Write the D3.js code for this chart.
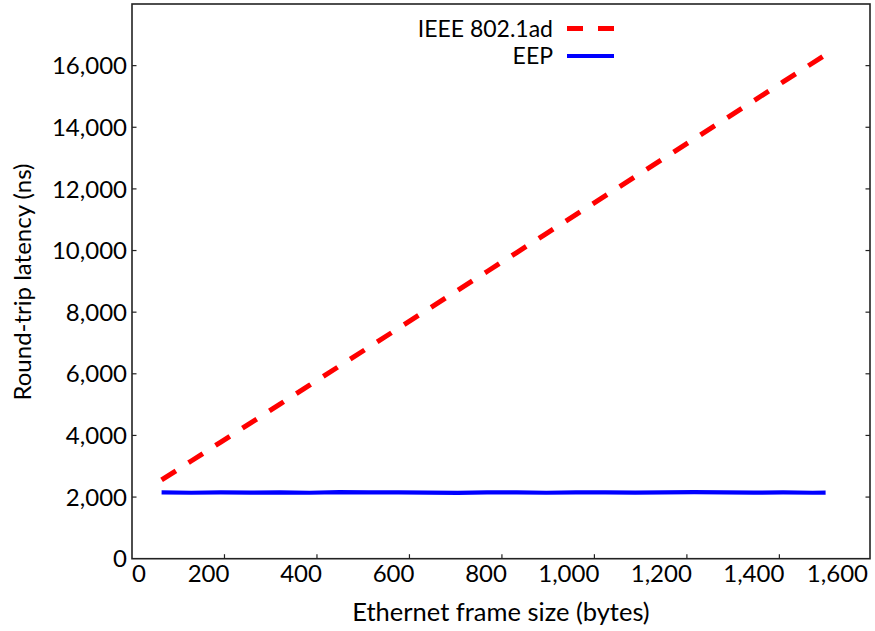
<!DOCTYPE html>
<html><head><meta charset="utf-8">
<script src="https://cdn.jsdelivr.net/npm/d3@7"></script>
<style>
body{margin:0;background:#fff;}
text{font-family:Lato,"Noto Sans",sans-serif;fill:#000;}
</style></head>
<body><svg id="c" width="875" height="631"></svg>
<script>
const frameSizes = [64,128,192,256,320,384,448,512,576,640,704,768,832,896,960,1024,1088,1152,1216,1280,1344,1408,1472,1500];
const ieeeLatency = [2555,3170,3785,4400,5015,5630,6245,6860,7475,8090,8705,9320,9935,10550,11165,11781,12396,13010,13626,14241,14856,15471,16086,16355];
const eepLatency = [2150,2140,2150,2145,2155,2140,2160,2150,2155,2145,2135,2150,2155,2140,2150,2150,2145,2155,2160,2150,2145,2150,2140,2145];
const xTicks = [0,200,400,600,800,1000,1200,1400,1600];
const yTicks = [0,2000,4000,6000,8000,10000,12000,14000,16000];
const seriesNames = ["IEEE 802.1ad","EEP"];
const xTitle = "Ethernet frame size (bytes)";
const yTitle = "Round-trip latency (ns)";

const svg = d3.select("#c");
const L=132, R=870, T=4, B=558.7;
const x = d3.scaleLinear().domain([0,1596]).range([L,R]);
const y = d3.scaleLinear().domain([0,18000]).range([B,T]);
const fmt = d3.format(",");
const fs = 24;

// data lines
const line = d3.line().x((d,i)=>x(frameSizes[i])).y(d=>y(d));
svg.append("path").datum(eepLatency).attr("d",line)
  .attr("fill","none").attr("stroke","#0000ff").attr("stroke-width",4.2);
svg.append("path").datum(ieeeLatency).attr("d",line)
  .attr("fill","none").attr("stroke","#ff0000").attr("stroke-width",5).attr("stroke-dasharray","17,15");

// frame
svg.append("rect").attr("x",L).attr("y",T).attr("width",R-L).attr("height",B-T)
  .attr("fill","none").attr("stroke","#222").attr("stroke-width",1.6);

// ticks (inward)
const tl=4.5;
xTicks.filter(t=>x(t)>L+1 && x(t)<R-1).forEach(t=>{
  svg.append("line").attr("x1",x(t)).attr("x2",x(t)).attr("y1",B).attr("y2",B-tl).attr("stroke","#222").attr("stroke-width",1.2);
});
yTicks.filter(t=>y(t)<B-1).forEach(t=>{
  svg.append("line").attr("x1",L).attr("x2",L+tl).attr("y1",y(t)).attr("y2",y(t)).attr("stroke","#222").attr("stroke-width",1.2);
  svg.append("line").attr("x1",R).attr("x2",R-tl).attr("y1",y(t)).attr("y2",y(t)).attr("stroke","#222").attr("stroke-width",1.2);
});

// x tick labels
xTicks.forEach(t=>{
  const tx = svg.append("text").attr("y",B+23).attr("font-size",fs).attr("text-anchor","end").text(fmt(t));
  const w = tx.node().getComputedTextLength();
  let right = x(t)+5;
  if (right - w < L) right = L + w;
  if (right > R-2) right = R-2;
  tx.attr("x", right);
});
// y tick labels
yTicks.forEach(t=>{
  svg.append("text").attr("x",L-5).attr("y",y(t)).attr("dy","0.36em")
    .attr("font-size",fs).attr("text-anchor","end").text(fmt(t));
});

// axis titles
svg.append("text").attr("x",501).attr("y",621).attr("text-anchor","middle").attr("font-size",25.5).text(xTitle);
svg.append("text").attr("transform","translate(31,282) rotate(-90)")
  .attr("text-anchor","middle").attr("font-size",fs).text(yTitle);

// legend
const lg = [{name:seriesNames[0],color:"#ff0000",dash:"16,15",w:5,yy:28.5},
            {name:seriesNames[1],color:"#0000ff",dash:null,w:4.2,yy:56}];
lg.forEach(d=>{
  svg.append("text").attr("x",553).attr("y",d.yy).attr("dy","0.36em").attr("text-anchor","end").attr("font-size",23).text(d.name);
  const l = svg.append("line").attr("x1",567).attr("x2",614).attr("y1",d.yy).attr("y2",d.yy)
    .attr("stroke",d.color).attr("stroke-width",d.w);
  if (d.dash) l.attr("stroke-dasharray",d.dash);
});
</script></body></html>
